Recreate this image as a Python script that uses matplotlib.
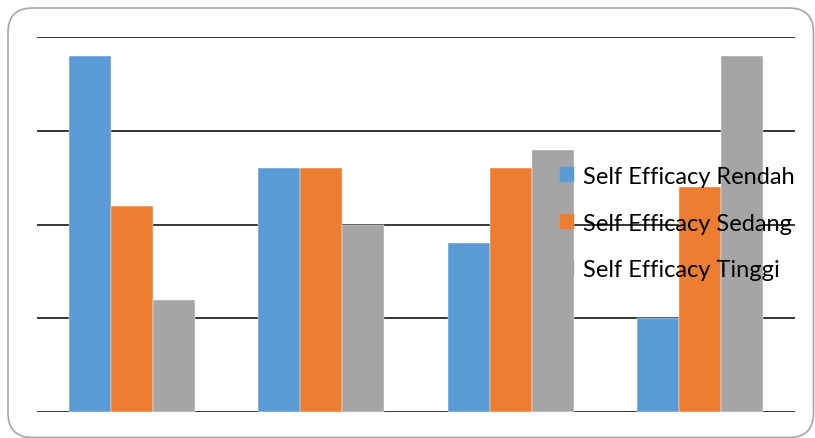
import matplotlib.pyplot as plt
import numpy as np
from matplotlib.patches import FancyBboxPatch

# data (gridline step = 5)
categories = ["1", "2", "3", "4"]
rendah = [19, 13, 9, 5]
sedang = [11, 13, 13, 12]
tinggi = [6, 10, 14, 19]
series_names = ["Self Efficacy Rendah", "Self Efficacy Sedang", "Self Efficacy Tinggi"]
colors = ["#5B9BD5", "#ED7D31", "#A5A5A5"]

plt.rcParams['font.family'] = ['Lato', 'DejaVu Sans']

fig = plt.figure(figsize=(8.15, 4.39), dpi=100)

# rounded chart border (right and bottom edges run to the image edge)
border = FancyBboxPatch((8 / 815, 0.5 / 439), 805.5 / 815, 429.5 / 439,
                        boxstyle="round,pad=0,rounding_size=0.03",
                        mutation_aspect=815 / 439,
                        transform=fig.transFigure, facecolor="none",
                        edgecolor="#a6a6a6", linewidth=1.2, zorder=-1)
fig.patches.append(border)

ax = fig.add_axes([37 / 815, 1 - 413 / 439, 758 / 815, 375 / 439])
ax.set_facecolor("none")

x = np.arange(len(categories))
w = 0.222
for i, (vals, name, c) in enumerate(zip([rendah, sedang, tinggi], series_names, colors)):
    ax.bar(x + (i - 1) * w, vals, width=w, color=c, label=name, zorder=2,
           edgecolor="white", linewidth=0.3)

ax.set_xlim(-0.5, 3.5)
ax.set_ylim(0, 20)
ax.set_yticks([0, 5, 10, 15, 20])
ax.yaxis.grid(True, color="black", linewidth=1.1)
ax.set_axisbelow(True)
ax.tick_params(left=False, bottom=False, labelleft=False, labelbottom=False)
for s in ax.spines.values():
    s.set_visible(False)

leg = ax.legend(loc="upper left", bbox_to_anchor=(560 / 815, 1 - 167 / 439),
                bbox_transform=fig.transFigure, frameon=False, fontsize=17,
                handlelength=0.6, handleheight=0.6, handletextpad=0.38,
                labelspacing=1.09, borderpad=0, borderaxespad=0)
leg.set_zorder(3)
for h in leg.legend_handles:
    h.set_edgecolor(h.get_facecolor())

fig.savefig("out.png", dpi=100)
